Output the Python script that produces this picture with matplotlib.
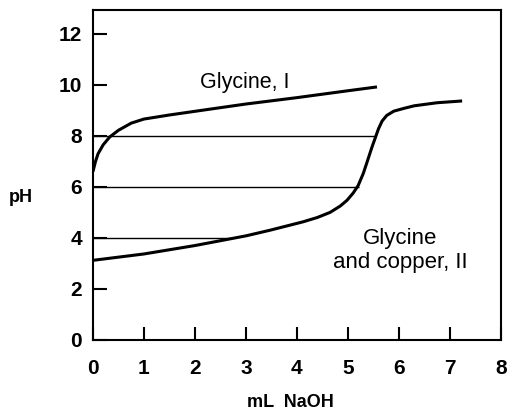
import matplotlib.pyplot as plt

plt.rcParams['font.family'] = ['Liberation Sans', 'DejaVu Sans']

# curve I: glycine alone
gly_x = [0.0, 0.05, 0.1, 0.2, 0.33, 0.5, 0.75, 1.0, 1.5, 2.3, 3.0, 4.0, 5.0, 5.57]
gly_ph = [6.6, 7.0, 7.3, 7.65, 7.96, 8.22, 8.5, 8.66, 8.82, 9.05, 9.25, 9.5, 9.77, 9.92]

# curve II: glycine and copper
cu_x = [0.0, 1.0, 2.0, 3.0, 3.47, 4.12, 4.4, 4.65, 4.85, 4.98, 5.1, 5.2, 5.3, 5.38,
        5.47, 5.55, 5.6, 5.67, 5.76, 5.9, 6.1, 6.3, 6.75, 7.24]
cu_ph = [3.12, 3.37, 3.7, 4.08, 4.3, 4.63, 4.8, 5.0, 5.25, 5.47, 5.75, 6.05, 6.52, 7.0,
         7.55, 8.0, 8.28, 8.58, 8.8, 8.97, 9.08, 9.18, 9.3, 9.37]

# horizontal tie lines
tie_ph = [8, 6, 4]
tie_end = [5.53, 5.22, 2.75]

xticks = [0, 1, 2, 3, 4, 5, 6, 7, 8]
yticks = [0, 2, 4, 6, 8, 10, 12]

fig = plt.figure(figsize=(5.08, 4.13), dpi=100)
ax = fig.add_axes([0.183, 0.177, 0.803, 0.799])

ax.plot(gly_x, gly_ph, color='black', lw=2.2, solid_capstyle='butt', solid_joinstyle='round')
ax.plot(cu_x, cu_ph, color='black', lw=2.2, solid_capstyle='butt', solid_joinstyle='round')
ax.hlines(tie_ph, 0, tie_end, color='black', lw=1.0)

ax.text(2.1, 10.1, 'Glycine, I', fontsize=15.5, va='center', ha='left')
ax.text(6.02, 3.49, 'Glycine\nand copper, II', fontsize=16, va='center',
        ha='center', linespacing=1.2)

ax.set_xlim(0, 8)
ax.set_ylim(0, 12.94)
ax.set_xticks(xticks)
ax.set_yticks(yticks)
ax.tick_params(direction='in', width=1.5, labelsize=15)
ax.tick_params(axis='x', length=9.5, pad=14)
ax.tick_params(axis='y', length=10, pad=8)
for lab in ax.get_xticklabels() + ax.get_yticklabels():
    lab.set_fontweight('bold')
for s in ax.spines.values():
    s.set_linewidth(1.5)

ax.set_xlabel('mL  NaOH', fontsize=13, fontweight='bold', va='center')
ax.xaxis.set_label_coords(0.485, -0.191)
ax.set_ylabel('pH', fontsize=13, fontweight='bold', rotation=0, va='center', ha='center')
ax.yaxis.set_label_coords(-0.176, 0.433)

fig.savefig('out.png', dpi=100)
